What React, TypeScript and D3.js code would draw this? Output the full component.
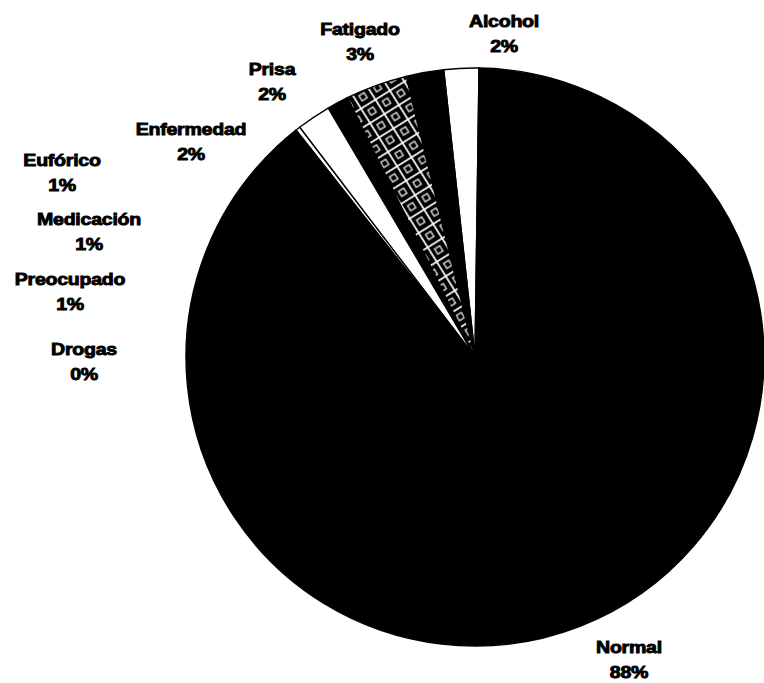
import React from "react";
import * as d3 from "d3";

// Slices, counter-clockwise from 12 o'clock
const categories = ["Alcohol", "Prisa", "Fatigado", "Eufórico", "Enfermedad", "Drogas", "Medicación", "Preocupado", "Normal"];
const shares = [1.95, 2.1, 3.45, 1.2, 1.9, 0.25, 0.75, 0.6, 87.8];
const percentLabels = ["2%", "2%", "3%", "1%", "2%", "0%", "1%", "1%", "88%"];

const W = 764;
const H = 683;
const CX = 475;
const CY = 357;
const R = 289;
const START = (0.8 * Math.PI) / 180;

const fillOf: Record<string, string> = {
  Alcohol: "#ffffff",
  Prisa: "#000000",
  Fatigado: "url(#hatch)",
  "Eufórico": "#000000",
  Enfermedad: "#ffffff",
  Drogas: "#ffffff",
  "Medicación": "#000000",
  Preocupado: "#000000",
  Normal: "#000000",
};

// label anchor (center x, baseline of first line)
const labelPos: Record<string, [number, number]> = {
  Alcohol: [504, 27],
  Fatigado: [360, 35],
  Prisa: [272, 75],
  Enfermedad: [191, 135],
  "Eufórico": [62, 166],
  "Medicación": [89, 225],
  Preocupado: [70, 285],
  Drogas: [84, 355],
  Normal: [629, 653],
};

export default function App() {
  const data = categories.map((c, i) => ({ name: c, value: shares[i], pct: percentLabels[i] }));
  const pie = d3
    .pie<any>()
    .value((d) => d.value)
    .sort(null)
    .startAngle(START)
    .endAngle(START - 2 * Math.PI);
  const arcs = pie(data);
  const arc = d3.arc<any>().innerRadius(0).outerRadius(R);

  const textProps = {
    textAnchor: "middle" as const,
    fontSize: 17,
    fontWeight: "bold",
    fill: "#000",
    stroke: "#000",
    strokeWidth: 0.9,
    letterSpacing: -0.2,
  };

  return (
    <svg
      width={W}
      height={H}
      style={{ position: "absolute", left: 0, top: 0, background: "#fff" }}
      fontFamily="'Liberation Sans', Arial, sans-serif"
    >
      <defs>
        <pattern id="hatch" patternUnits="userSpaceOnUse" width={17} height={17} patternTransform="rotate(-32)">
          <rect width={17} height={17} fill="#000" />
          <line x1={0} y1={1} x2={17} y2={1} stroke="#fff" strokeWidth={1.7} />
          <line x1={1} y1={0} x2={1} y2={17} stroke="#fff" strokeWidth={1.7} />
          <rect x={6} y={6} width={6} height={6} fill="none" stroke="#fff" strokeWidth={1.2} />
        </pattern>
      </defs>
      <rect width={W} height={H} fill="#fff" />
      <g transform={`translate(${CX},${CY})`}>
        {arcs.map((a, i) => (
          <path key={i} d={arc(a) as string} fill={fillOf[a.data.name]} stroke="#000" strokeWidth={1.4} />
        ))}
      </g>
      {data.map((d, i) => {
        const [x, y] = labelPos[d.name];
        return (
          <g key={i} transform={`translate(${x},0)`}>
            <text transform={`translate(0,${y}) scale(1.15,1)`} {...textProps}>
              {d.name}
            </text>
            <text transform={`translate(0,${y + 25}) scale(1.15,1)`} {...textProps}>
              {d.pct}
            </text>
          </g>
        );
      })}
    </svg>
  );
}
